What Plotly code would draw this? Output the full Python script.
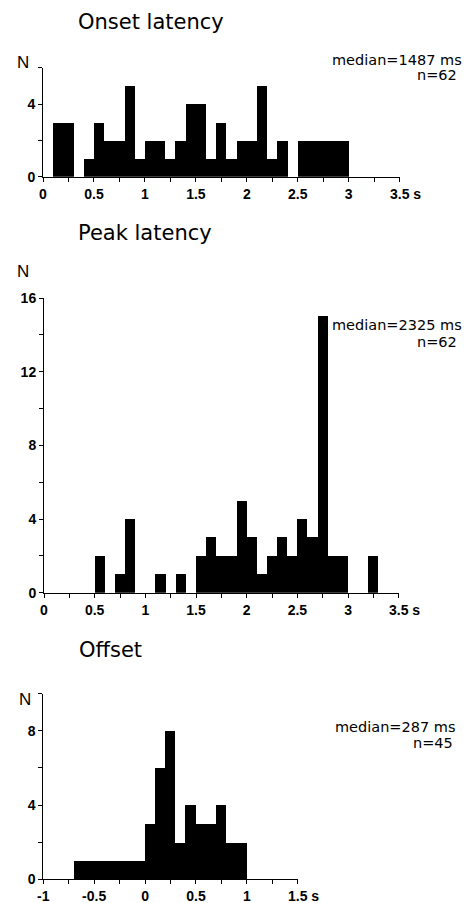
import plotly.graph_objects as go

# page body adds an 8px margin, so the figure is drawn 8px in from the top-left
OFF = 8
W, H = 474 - OFF, 903 - OFF

# ---------------- data ----------------
bin_width = 0.1

onset_bin_left = [0.0, 0.1, 0.2, 0.3, 0.4, 0.5, 0.6, 0.7, 0.8, 0.9,
                  1.0, 1.1, 1.2, 1.3, 1.4, 1.5, 1.6, 1.7, 1.8, 1.9,
                  2.0, 2.1, 2.2, 2.3, 2.4, 2.5, 2.6, 2.7, 2.8, 2.9]
onset_counts = [0, 3, 3, 0, 1, 3, 2, 2, 5, 1,
                2, 2, 1, 2, 4, 4, 1, 3, 1, 2,
                2, 5, 1, 2, 0, 2, 2, 2, 2, 2]

peak_bin_left = [0.0, 0.1, 0.2, 0.3, 0.4, 0.5, 0.6, 0.7, 0.8, 0.9,
                 1.0, 1.1, 1.2, 1.3, 1.4, 1.5, 1.6, 1.7, 1.8, 1.9,
                 2.0, 2.1, 2.2, 2.3, 2.4, 2.5, 2.6, 2.7, 2.8, 2.9,
                 3.0, 3.1, 3.2]
peak_counts = [0, 0, 0, 0, 0, 2, 0, 1, 4, 0,
               0, 1, 0, 1, 0, 2, 3, 2, 2, 5,
               3, 1, 2, 3, 2, 4, 3, 15, 2, 2,
               0, 0, 2]

offset_bin_left = [-0.7, -0.6, -0.5, -0.4, -0.3, -0.2, -0.1,
                   0.0, 0.1, 0.2, 0.3, 0.4, 0.5, 0.6, 0.7, 0.8, 0.9]
offset_counts = [1, 1, 1, 1, 1, 1, 1,
                 3, 6, 8, 2, 4, 3, 3, 4, 2, 2]

titles = ["Onset latency", "Peak latency", "Offset"]
medians = ["median=1487 ms", "median=2325 ms", "median=287 ms"]
ns = ["n=62", "n=62", "n=45"]

x_ticks_latency = [0, 0.25, 0.5, 0.75, 1, 1.25, 1.5, 1.75, 2, 2.25, 2.5, 2.75, 3, 3.25, 3.5]
x_text_latency = ["0", "", "0.5", "", "1", "", "1.5", "", "2", "", "2.5", "", "3", "",
                  "\u00a0\u00a0\u00a03.5 s"]
x_ticks_offset = [-1, -0.75, -0.5, -0.25, 0, 0.25, 0.5, 0.75, 1, 1.25, 1.5]
x_text_offset = ["-1", "", "-0.5", "", "0", "", "0.5", "", "1", "", "\u00a0\u00a0\u00a01.5 s"]

y_ticks_onset = [0, 2, 4, 6]
y_text_onset = ["0", "", "4", ""]
y_ticks_peak = [0, 2, 4, 6, 8, 10, 12, 14, 16]
y_text_peak = ["0", "", "4", "", "8", "", "12", "", "16"]
y_ticks_offset = [0, 2, 4, 6, 8, 10]
y_text_offset = ["0", "", "4", "", "8", ""]


def px(x):
    return (x - OFF) / W


def py(y):
    return 1 - (y - OFF) / H


fig = go.Figure()

panels = [
    dict(bins=onset_bin_left, counts=onset_counts, xa="x", ya="y"),
    dict(bins=peak_bin_left, counts=peak_counts, xa="x2", ya="y2"),
    dict(bins=offset_bin_left, counts=offset_counts, xa="x3", ya="y3"),
]
for p in panels:
    fig.add_trace(go.Bar(
        x=p["bins"], y=p["counts"], width=bin_width, offset=0,
        marker=dict(color="black", line=dict(width=0)),
        xaxis=p["xa"], yaxis=p["ya"], showlegend=False, hoverinfo="skip",
    ))

tickfont = dict(family="Liberation Sans, Arial", size=14, color="black", weight="bold")
axis_common = dict(showline=True, linecolor="black", linewidth=1, ticks="outside",
                   ticklen=4, tickwidth=1, tickcolor="black", showgrid=False,
                   zeroline=False, tickfont=tickfont, tickmode="array", fixedrange=True,
                   automargin=False)

fig.update_layout(
    width=W, height=H,
    margin=dict(l=0, r=0, t=0, b=0),
    paper_bgcolor="white", plot_bgcolor="white",
    bargap=0,
    xaxis=dict(domain=[px(43), px(399.7)], range=[0, 3.5], anchor="y",
               tickvals=x_ticks_latency, ticktext=x_text_latency, **axis_common),
    yaxis=dict(domain=[py(176.7), py(67.7)], range=[0, 6], anchor="x",
               tickvals=y_ticks_onset, ticktext=y_text_onset, **axis_common),
    xaxis2=dict(domain=[px(44), px(398.7)], range=[0, 3.5], anchor="y2",
                tickvals=x_ticks_latency, ticktext=x_text_latency, **axis_common),
    yaxis2=dict(domain=[py(592.7), py(298)], range=[0, 16], anchor="x2",
                tickvals=y_ticks_peak, ticktext=y_text_peak, **axis_common),
    xaxis3=dict(domain=[px(43.3), px(297.7)], range=[-1, 1.5], anchor="y3",
                tickvals=x_ticks_offset, ticktext=x_text_offset, **axis_common),
    yaxis3=dict(domain=[py(879.3), py(693.6)], range=[0, 10], anchor="x3",
                tickvals=y_ticks_offset, ticktext=y_text_offset, **axis_common),
)

title_font = dict(family="DejaVu Sans", size=21, color="black")
note_font = dict(family="DejaVu Sans", size=14.5, color="black")
n_font = dict(family="Liberation Sans, Arial", size=17, color="black")

title_pos = [(76, 22), (76, 233), (77, 650)]
n_label_pos = [(23, 63), (23, 271), (25, 699)]
median_pos = [(464, 60), (464, 325), (457, 727)]
n_pos = [(459, 75), (459, 342), (455, 743)]

for i in range(3):
    fig.add_annotation(text=titles[i], x=px(title_pos[i][0]), y=py(title_pos[i][1]),
                       xref="paper", yref="paper", xanchor="left", yanchor="middle",
                       showarrow=False, font=title_font)
    fig.add_annotation(text="N", x=px(n_label_pos[i][0]), y=py(n_label_pos[i][1]),
                       xref="paper", yref="paper", xanchor="center", yanchor="middle",
                       showarrow=False, font=n_font)
    fig.add_annotation(text=medians[i], x=px(median_pos[i][0]), y=py(median_pos[i][1]),
                       xref="paper", yref="paper", xanchor="right", yanchor="middle",
                       showarrow=False, font=note_font)
    fig.add_annotation(text=ns[i], x=px(n_pos[i][0]), y=py(n_pos[i][1]),
                       xref="paper", yref="paper", xanchor="right", yanchor="middle",
                       showarrow=False, font=note_font)

fig.write_html("out.html")
